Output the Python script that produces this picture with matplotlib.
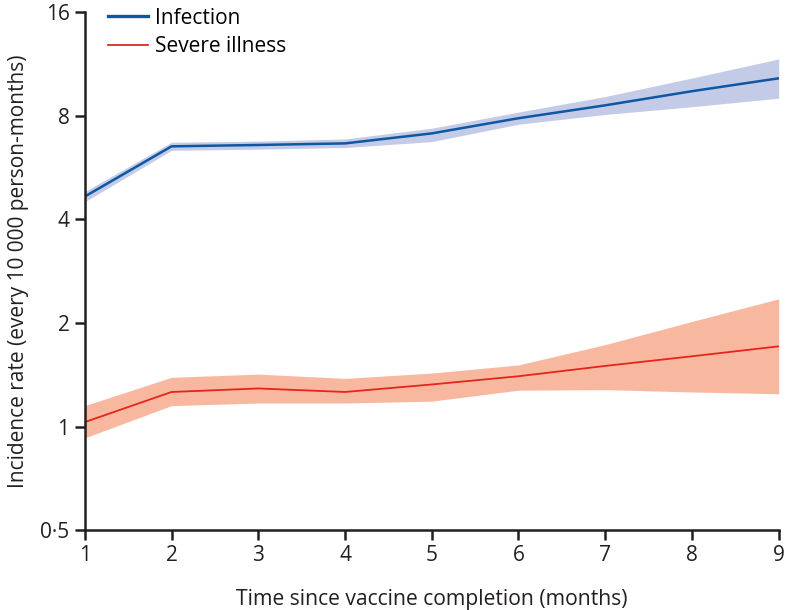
import matplotlib
matplotlib.use("Agg")
import matplotlib.pyplot as plt
from matplotlib.ticker import FixedLocator, FixedFormatter, NullLocator

plt.rcParams['font.family'] = ['Open Sans', 'DejaVu Sans']

months = [1, 2, 3, 4, 5, 6, 7, 8, 9]
infection = [4.66, 6.52, 6.58, 6.65, 7.11, 7.87, 8.58, 9.43, 10.28]
infection_low = [4.50, 6.35, 6.40, 6.47, 6.73, 7.56, 8.07, 8.50, 9.00]
infection_high = [4.82, 6.70, 6.75, 6.85, 7.36, 8.20, 9.10, 10.30, 11.70]
severe = [1.03, 1.26, 1.29, 1.26, 1.325, 1.40, 1.50, 1.60, 1.71]
severe_low = [0.927, 1.15, 1.17, 1.17, 1.185, 1.275, 1.28, 1.26, 1.245]
severe_high = [1.15, 1.39, 1.42, 1.38, 1.43, 1.51, 1.73, 2.02, 2.35]
ytick_vals = [0.5, 1, 2, 4, 8, 16]
ytick_labels = ['0·5', '1', '2', '4', '8', '16']

fig = plt.figure(figsize=(7.85, 6.10), dpi=100)
ax = fig.add_axes([0.108, 0.131, 0.884, 0.849])

ax.fill_between(months, infection_low, infection_high, color='#c4cbe6', lw=0)
ax.fill_between(months, severe_low, severe_high, color='#f8b8a0', lw=0)
ax.plot(months, infection, color='#0d57a3', lw=1.8, label='Infection')
ax.plot(months, severe, color='#e8231c', lw=1.3, label='Severe illness')

ax.set_yscale('log', base=2)
ax.set_ylim(0.5, 16)
ax.set_xlim(1, 9)
ax.yaxis.set_major_locator(FixedLocator(ytick_vals))
ax.yaxis.set_major_formatter(FixedFormatter(ytick_labels))
ax.yaxis.set_minor_locator(NullLocator())
ax.set_xticks(months)

for s in ['top', 'right']:
    ax.spines[s].set_visible(False)
for s in ['left', 'bottom']:
    ax.spines[s].set_linewidth(1.8)
    ax.spines[s].set_color('#231f20')
ax.tick_params(axis='both', direction='out', length=7, width=1.8, color='#231f20',
               labelsize=15, labelcolor='#231f20', pad=4)

ax.set_xlabel('Time since vaccine completion (months)', fontsize=15.2, color='#231f20', labelpad=16)
ax.set_ylabel('Incidence rate (every 10 000 person-months)', fontsize=15, color='#231f20', labelpad=8)

leg = ax.legend(loc='upper left', frameon=False, fontsize=15, handlelength=1.9, handletextpad=0.35,
          labelspacing=0.35, bbox_to_anchor=(0.022, 1.025), borderaxespad=0)
leg.get_lines()[0].set_linewidth(2.4)

fig.savefig('out.png', dpi=100)
